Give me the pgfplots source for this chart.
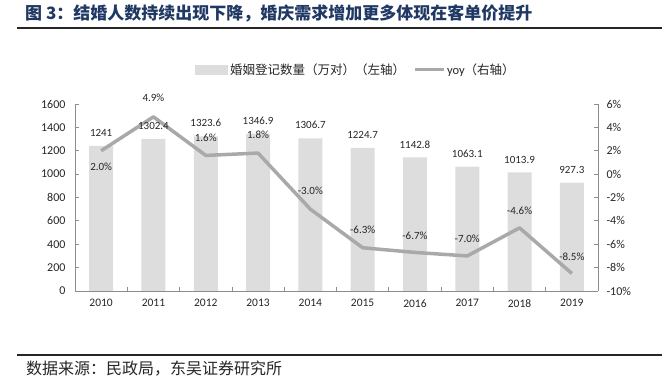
\documentclass[border=0pt]{standalone}
\usepackage{pgfplots}
\pgfplotsset{compat=1.18}
\usepackage{fontspec}
\setmainfont{Carlito}
\newfontfamily\cjk{Noto Sans CJK SC}
\definecolor{bargray}{HTML}{DDDDDD}
\definecolor{linegray}{HTML}{A9A9A9}
\definecolor{axisgray}{HTML}{8C8C8C}
\definecolor{txt}{HTML}{262626}
\definecolor{navy}{HTML}{1F3864}
\pgfplotstableread{
x y lab
0 1241 1241
1 1302.4 1302.4
2 1323.6 1323.6
3 1346.9 1346.9
4 1306.7 1306.7
5 1224.7 1224.7
6 1142.8 1142.8
7 1063.1 1063.1
8 1013.9 1013.9
9 927.3 927.3
}\bars
\begin{document}
\begin{tikzpicture}
\path[use as bounding box] (0bp,0bp) rectangle (662bp,381bp);
% title and rules
\node[anchor=west, inner sep=0pt, text=navy, font=\fontsize{17bp}{20bp}\selectfont\cjk\bfseries] at (25bp,368bp) {图 3：结婚人数持续出现下降，婚庆需求增加更多体现在客单价提升};
\draw[line width=1.3bp, black!85] (17bp,353bp) -- (662bp,353bp);
\draw[line width=1.3bp, black!85] (17bp,26bp) -- (662bp,26bp);
\node[anchor=west, inner sep=0pt, text=txt, font=\fontsize{16bp}{19bp}\selectfont\cjk] at (26bp,12bp) {数据来源：民政局，东吴证券研究所};

\begin{axis}[
  at={(75bp,90bp)}, anchor=south west, scale only axis,
  width=523bp, height=187bp,
  xmin=-0.5, xmax=9.5, ymin=0, ymax=1600,
  ytick={0,200,...,1600},
  xtick={0,...,9},
  xticklabels={2010,2011,2012,2013,2014,2015,2016,2017,2018,2019},
  minor xtick={-0.5,0.5,...,9.5},
  axis x line*=bottom, axis y line*=left,
  axis line style={draw=axisgray, line width=0.8bp, -},
  tick align=inside,
  major x tick style={draw=none},
  minor x tick style={draw=axisgray, line width=0.8bp},
  major y tick style={draw=axisgray, line width=0.8bp},
  major tick length=4bp, minor tick length=4bp,
  /pgf/number format/assume math mode=true,
  /pgf/number format/1000 sep={},
  tick label style={text=txt},
  yticklabel style={xshift=-6bp, font=\fontsize{12bp}{14bp}\selectfont},
  xticklabel style={yshift=-5bp, font=\fontsize{11.5bp}{14bp}\selectfont},
  legend columns=2,
  legend style={at={(0.537,1.182)}, anchor=center, draw=none, fill=none,
    font=\fontsize{12.5bp}{15bp}\selectfont, text=txt,
    /tikz/every even column/.append style={column sep=6bp}},
]
\addplot[ybar, bar width=24bp, fill=bargray, draw=none,
  legend image code/.code={\fill[bargray] (0bp,-5bp) rectangle (33bp,5bp);}]
table[x=x, y=y]{\bars};
\addlegendentry{\cjk 婚姻登记数量（万对）（左轴）}
\addlegendimage{legend image code/.code={\draw[linegray, line width=3bp] (0bp,0bp) -- (29bp,0bp);}}
\addlegendentry{yoy{\cjk（右轴）}}
\end{axis}

\begin{axis}[
  at={(75bp,90bp)}, anchor=south west, scale only axis,
  width=523bp, height=187bp,
  xmin=-0.5, xmax=9.5, ymin=-10, ymax=6,
  axis x line=none, axis y line*=right,
  axis line style={draw=axisgray, line width=0.8bp, -},
  tick align=inside,
  ytick={-10,-8,...,6},
  yticklabels={-10\%,-8\%,-6\%,-4\%,-2\%,0\%,2\%,4\%,6\%},
  major y tick style={draw=axisgray, line width=0.8bp},
  major tick length=4bp,
  tick label style={text=txt},
  yticklabel style={xshift=5bp, font=\fontsize{12bp}{14bp}\selectfont},
]
\addplot[color=linegray, line width=3.5bp, mark=none, line join=round,
  nodes near coords={\pgfplotspointmeta\%},
  point meta=explicit symbolic,
  visualization depends on={\thisrow{dy} \as \labdy},
  every node near coord/.append style={anchor=center, yshift=\labdy bp, text=txt, font=\fontsize{11bp}{13bp}\selectfont}]
table[meta=lab]{
x y lab dy
0 2.0 2.0 -16
1 4.9 4.9 19
2 1.6 1.6 18
3 1.8 1.8 18
4 -3.0 -3.0 18
5 -6.3 -6.3 18
6 -6.7 -6.7 17
7 -7.0 -7.0 17
8 -4.6 -4.6 17
9 -8.5 -8.5 17
};
\end{axis}

% bar value labels, drawn on top of the line
\begin{axis}[
  at={(75bp,90bp)}, anchor=south west, scale only axis,
  width=523bp, height=187bp,
  xmin=-0.5, xmax=9.5, ymin=0, ymax=1600,
  hide axis,
]
\addplot[draw=none, mark=none,
  nodes near coords={\pgfplotspointmeta},
  point meta=explicit symbolic,
  every node near coord/.append style={anchor=center, yshift=13bp, text=txt, font=\fontsize{11bp}{13bp}\selectfont}]
table[x=x, y=y, meta=lab]{\bars};
\end{axis}
\end{tikzpicture}
\end{document}
